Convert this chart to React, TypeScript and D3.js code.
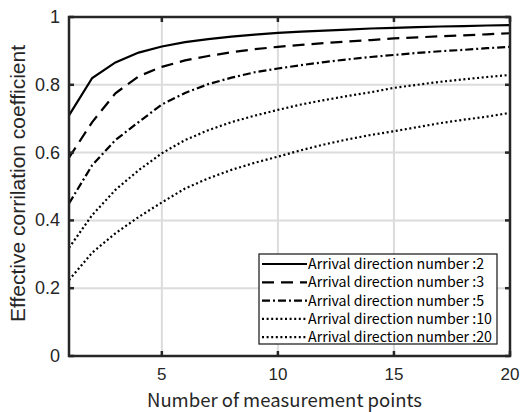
import React, { useEffect, useRef } from 'react';
import * as d3 from 'd3';

// number of measurement points (x)
const points = [1, 2, 3, 4, 5, 6, 7, 8, 9, 10, 11, 12, 13, 14, 15, 16, 17, 18, 19, 20];

// effective correlation coefficient per arrival direction number
const dir2 = [0.71, 0.82, 0.866, 0.895, 0.913, 0.926, 0.935, 0.942, 0.948, 0.953, 0.957, 0.96, 0.963, 0.966, 0.968, 0.97, 0.972, 0.973, 0.975, 0.976];
const dir3 = [0.585, 0.69, 0.775, 0.825, 0.853, 0.872, 0.885, 0.896, 0.905, 0.912, 0.918, 0.923, 0.928, 0.932, 0.937, 0.94, 0.943, 0.946, 0.949, 0.952];
const dir5 = [0.45, 0.563, 0.637, 0.69, 0.742, 0.776, 0.802, 0.821, 0.837, 0.848, 0.858, 0.867, 0.875, 0.882, 0.888, 0.894, 0.899, 0.903, 0.908, 0.912];
const dir10 = [0.319, 0.416, 0.49, 0.548, 0.598, 0.637, 0.666, 0.69, 0.709, 0.726, 0.742, 0.755, 0.767, 0.778, 0.791, 0.8, 0.809, 0.816, 0.823, 0.829];
const dir20 = [0.224, 0.305, 0.362, 0.41, 0.453, 0.494, 0.524, 0.549, 0.57, 0.588, 0.607, 0.624, 0.639, 0.652, 0.663, 0.675, 0.687, 0.697, 0.706, 0.717];

const seriesLabels = [
  'Arrival direction number :2',
  'Arrival direction number :3',
  'Arrival direction number :5',
  'Arrival direction number :10',
  'Arrival direction number :20'
];
const seriesValues = [dir2, dir3, dir5, dir10, dir20];
const dashes = ['none', '12,7', '8,3,2,3', '2,2.6', '2,2.6'];

const xTicks = [5, 10, 15, 20];
const yTicks = [0, 0.2, 0.4, 0.6, 0.8, 1];

const App = () => {
  const svgRef = useRef<SVGSVGElement>(null);

  useEffect(() => {
    const width = 522;
    const height = 412;
    const margin = { top: 17, right: 12, bottom: 56, left: 69 };
    const iw = width - margin.left - margin.right;
    const ih = height - margin.top - margin.bottom;

    const svg = d3.select(svgRef.current);
    svg.selectAll('*').remove();
    svg.attr('width', width).attr('height', height);

    const chart = svg.append('g').attr('transform', `translate(${margin.left},${margin.top})`);

    const x = d3.scaleLinear().domain([1, 20]).range([0, iw]);
    const y = d3.scaleLinear().domain([0, 1]).range([ih, 0]);

    const tickFont = '"Liberation Sans", Arial, sans-serif';
    const jpFont = '"Noto Sans CJK JP", sans-serif';

    // grid
    chart.selectAll('.gx')
      .data(xTicks)
      .enter()
      .append('line')
      .attr('x1', d => x(d)).attr('x2', d => x(d))
      .attr('y1', 0).attr('y2', ih)
      .attr('stroke', '#dcdcdc').attr('stroke-width', 2);
    chart.selectAll('.gy')
      .data(yTicks)
      .enter()
      .append('line')
      .attr('x1', 0).attr('x2', iw)
      .attr('y1', d => y(d)).attr('y2', d => y(d))
      .attr('stroke', '#dcdcdc').attr('stroke-width', 2);

    // curves
    const line = d3.line<number>()
      .x((d, i) => x(points[i]))
      .y(d => y(d));

    seriesValues.forEach((vals, i) => {
      chart.append('path')
        .datum(vals)
        .attr('d', line)
        .attr('fill', 'none')
        .attr('stroke', '#000')
        .attr('stroke-width', 2.2)
        .attr('stroke-dasharray', dashes[i]);
    });

    // box and ticks
    const axisColor = '#262626';
    chart.append('rect')
      .attr('x', 0).attr('y', 0).attr('width', iw).attr('height', ih)
      .attr('fill', 'none').attr('stroke', axisColor).attr('stroke-width', 2.5);

    const tl = 5;
    xTicks.forEach(t => {
      chart.append('line').attr('x1', x(t)).attr('x2', x(t)).attr('y1', ih).attr('y2', ih - tl)
        .attr('stroke', axisColor).attr('stroke-width', 2.5);
      chart.append('line').attr('x1', x(t)).attr('x2', x(t)).attr('y1', 0).attr('y2', tl)
        .attr('stroke', axisColor).attr('stroke-width', 2.5);
    });
    yTicks.forEach(t => {
      chart.append('line').attr('x1', 0).attr('x2', tl).attr('y1', y(t)).attr('y2', y(t))
        .attr('stroke', axisColor).attr('stroke-width', 2.5);
      chart.append('line').attr('x1', iw).attr('x2', iw - tl).attr('y1', y(t)).attr('y2', y(t))
        .attr('stroke', axisColor).attr('stroke-width', 2.5);
    });

    // tick labels
    chart.selectAll('.xt')
      .data(xTicks)
      .enter()
      .append('text')
      .attr('x', d => x(d))
      .attr('y', ih + 24)
      .style('text-anchor', 'middle')
      .style('font-family', tickFont)
      .style('font-size', '17px')
      .style('fill', '#262626')
      .text(d => d);

    chart.selectAll('.yt')
      .data(yTicks)
      .enter()
      .append('text')
      .attr('x', -9)
      .attr('y', d => y(d) + 6)
      .style('text-anchor', 'end')
      .style('font-family', tickFont)
      .style('font-size', '18px')
      .style('fill', '#262626')
      .text(d => d3.format('~g')(d));

    // axis titles
    chart.append('text')
      .attr('x', iw / 2 - 5)
      .attr('y', ih + 50.5)
      .style('text-anchor', 'middle')
      .style('font-family', jpFont)
      .style('font-size', '18.5px')
      .style('fill', '#262626')
      .text('Number of measurement points');

    chart.append('text')
      .attr('transform', 'rotate(-90)')
      .attr('x', -ih / 2 + 3)
      .attr('y', -margin.left + 25)
      .style('text-anchor', 'middle')
      .style('font-family', tickFont)
      .style('font-size', '21px')
      .style('fill', '#262626')
      .text('Effective corrilation coefficient');

    // legend
    const lg = svg.append('g').attr('transform', 'translate(259,254)');
    lg.append('rect')
      .attr('x', 0).attr('y', 0).attr('width', 238).attr('height', 90)
      .attr('fill', '#fff').attr('stroke', '#262626').attr('stroke-width', 1.3);
    seriesLabels.forEach((label, i) => {
      const cy = 10 + i * 18.3;
      lg.append('line')
        .attr('x1', 3).attr('x2', 48).attr('y1', cy).attr('y2', cy)
        .attr('stroke', '#000').attr('stroke-width', 2.2)
        .attr('stroke-dasharray', dashes[i]);
      lg.append('text')
        .attr('x', 49)
        .attr('y', cy + 5)
        .style('font-family', jpFont)
        .style('font-size', '14.2px')
        .style('fill', '#000')
        .text(label);
    });
  }, []);

  return (
    <div>
      <svg ref={svgRef} style={{ position: 'absolute', left: 0, top: 0, background: '#fff' }}></svg>
    </div>
  );
};

export default App;
